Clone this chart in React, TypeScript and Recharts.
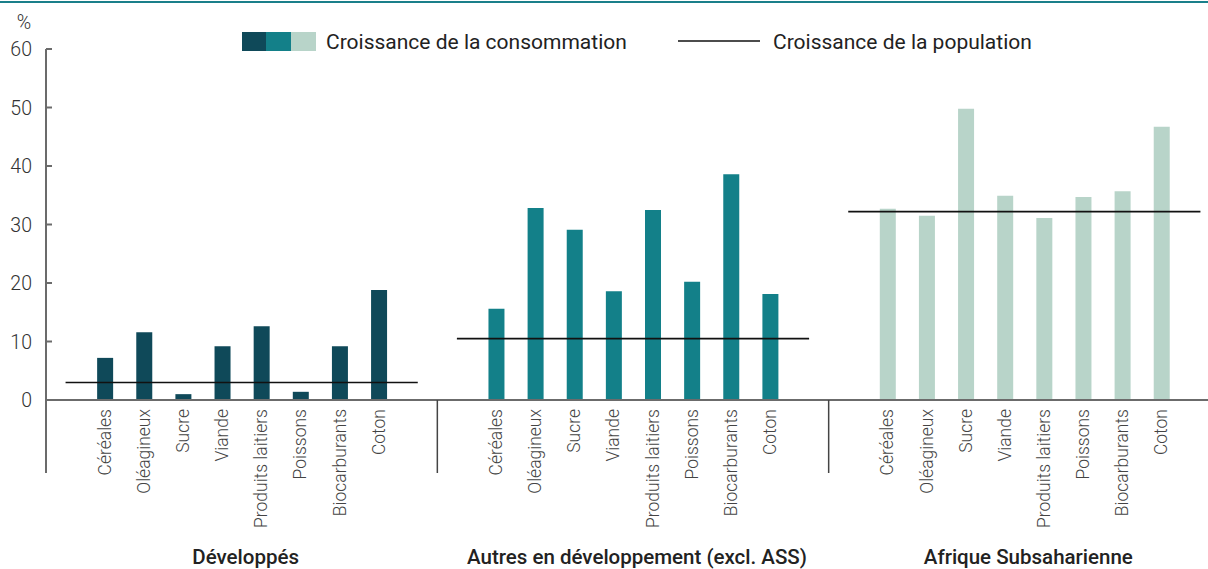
import React from 'react';
import { ComposedChart, Bar, Line, XAxis, YAxis, Cell } from 'recharts';

const categories = ['Céréales', 'Oléagineux', 'Sucre', 'Viande', 'Produits laitiers', 'Poissons', 'Biocarburants', 'Coton'];
const groups = ['Développés', 'Autres en développement (excl. ASS)', 'Afrique Subsaharienne'];
const developpes = [7.2, 11.6, 1.0, 9.2, 12.6, 1.4, 9.2, 18.8];
const autres = [15.6, 32.8, 29.1, 18.6, 32.5, 20.2, 38.6, 18.1];
const ass = [32.7, 31.5, 49.8, 34.9, 31.1, 34.7, 35.7, 46.7];
const population = [3.0, 10.5, 32.2];
const yTicks = [0, 10, 20, 30, 40, 50, 60];

const groupValues = [developpes, autres, ass];
const groupColors = ['#0f4959', '#138089', '#b8d4c9'];

const CHART_W = 1220;
const CHART_H = 569;
const PLOT_L = 46;
const BASE_Y = 400;
const SLOT = (CHART_W - PLOT_L) / 30;
const FONT = 'Roboto, "Noto Sans", sans-serif';

type Row = { key: string; label: string; value: number | null; group: number; slot: number; [k: string]: any };

const rows: Row[] = [];
groups.forEach((g, gi) => {
  for (let s = 0; s < 10; s++) {
    const ci = s - 1;
    const isCat = ci >= 0 && ci < categories.length;
    const r: Row = {
      key: `${gi}-${s}`,
      label: isCat ? categories[ci] : '',
      value: isCat ? groupValues[gi][ci] : null,
      group: gi,
      slot: s,
    };
    r[`pop${gi}`] = population[gi];
    rows.push(r);
  }
});
const rowByKey: Record<string, Row> = {};
rows.forEach((r) => (rowByKey[r.key] = r));

const XTick = (props: any) => {
  const { x, payload } = props;
  const row = rowByKey[payload.value];
  if (!row) return null;
  const els: React.ReactNode[] = [];
  if (row.label) {
    const ax = x + 6;
    const ay = 409;
    els.push(
      <text key="t" x={ax} y={ay} transform={`rotate(-90 ${ax} ${ay})`} textAnchor="end"
        fontFamily={FONT} fontSize={17.5} fontWeight={300} fill="#444">{row.label}</text>
    );
  }
  if (row.slot === 0) {
    const lx = x - SLOT / 2;
    els.push(
      <line key="d" x1={lx} x2={lx} y1={BASE_Y} y2={473}
        stroke={row.group === 0 ? '#6b6b6b' : '#444'} strokeWidth={row.group === 0 ? 2 : 1.5} />
    );
  }
  if (row.slot === 4) {
    els.push(
      <text key="g" x={x + SLOT / 2 + 4} y={564} textAnchor="middle" fontFamily={FONT}
        fontSize={20.5} fontWeight={500} fill="#222">{groups[row.group]}</text>
    );
  }
  return <g>{els}</g>;
};

const YTick = (props: any) => {
  const { y, payload } = props;
  return (
    <g>
      <line x1={PLOT_L} x2={PLOT_L + 6} y1={y} y2={y} stroke="#6b6b6b" strokeWidth={2} />
      <text x={32} y={y} dy={7} textAnchor="end" fontFamily={FONT} fontSize={19.5} fontWeight={300} fill="#333">
        {payload.value}
      </text>
    </g>
  );
};

export default function App() {
  return (
    <div style={{ position: 'absolute', left: 0, top: 0, width: 1208, height: 569, overflow: 'hidden', background: '#fff' }}>
      <ComposedChart width={CHART_W} height={CHART_H} data={rows} margin={{ top: 49, right: 0, bottom: 0, left: 0 }}>
        <XAxis dataKey="key" interval={0} tickLine={false} axisLine={{ stroke: '#6b6b6b', strokeWidth: 2 }}
          height={CHART_H - BASE_Y} tick={XTick} />
        <YAxis type="number" domain={[0, 60]} ticks={yTicks} width={PLOT_L} tickLine={false}
          axisLine={{ stroke: '#6b6b6b', strokeWidth: 2 }} tick={YTick} />
        <Bar dataKey="value" barSize={16} isAnimationActive={false}>
          {rows.map((r) => (
            <Cell key={r.key} fill={groupColors[r.group]} />
          ))}
        </Bar>
        {groups.map((g, gi) => (
          <Line key={g} dataKey={`pop${gi}`} stroke="#111" strokeWidth={1.6} dot={false}
            activeDot={false} connectNulls={false} isAnimationActive={false} type="linear" />
        ))}
      </ComposedChart>
      <svg width={1208} height={569} style={{ position: 'absolute', left: 0, top: 0, pointerEvents: 'none' }}>
        <rect x={0} y={1} width={1208} height={2} fill="#1a7f8a" />
        <text x={24} y={29} textAnchor="middle" fontFamily={FONT} fontSize={19.5} fontWeight={300} fill="#333">%</text>
        <rect x={242} y={32} width={24} height={19} fill={groupColors[0]} />
        <rect x={266} y={32} width={25} height={19} fill={groupColors[1]} />
        <rect x={291} y={32} width={25} height={19} fill={groupColors[2]} />
        <text x={326} y={48.5} fontFamily={FONT} fontSize={21} fill="#222">Croissance de la consommation</text>
        <line x1={678} x2={760} y1={41} y2={41} stroke="#111" strokeWidth={1.5} />
        <text x={773} y={48.5} fontFamily={FONT} fontSize={21} fill="#222">Croissance de la population</text>
      </svg>
    </div>
  );
}
